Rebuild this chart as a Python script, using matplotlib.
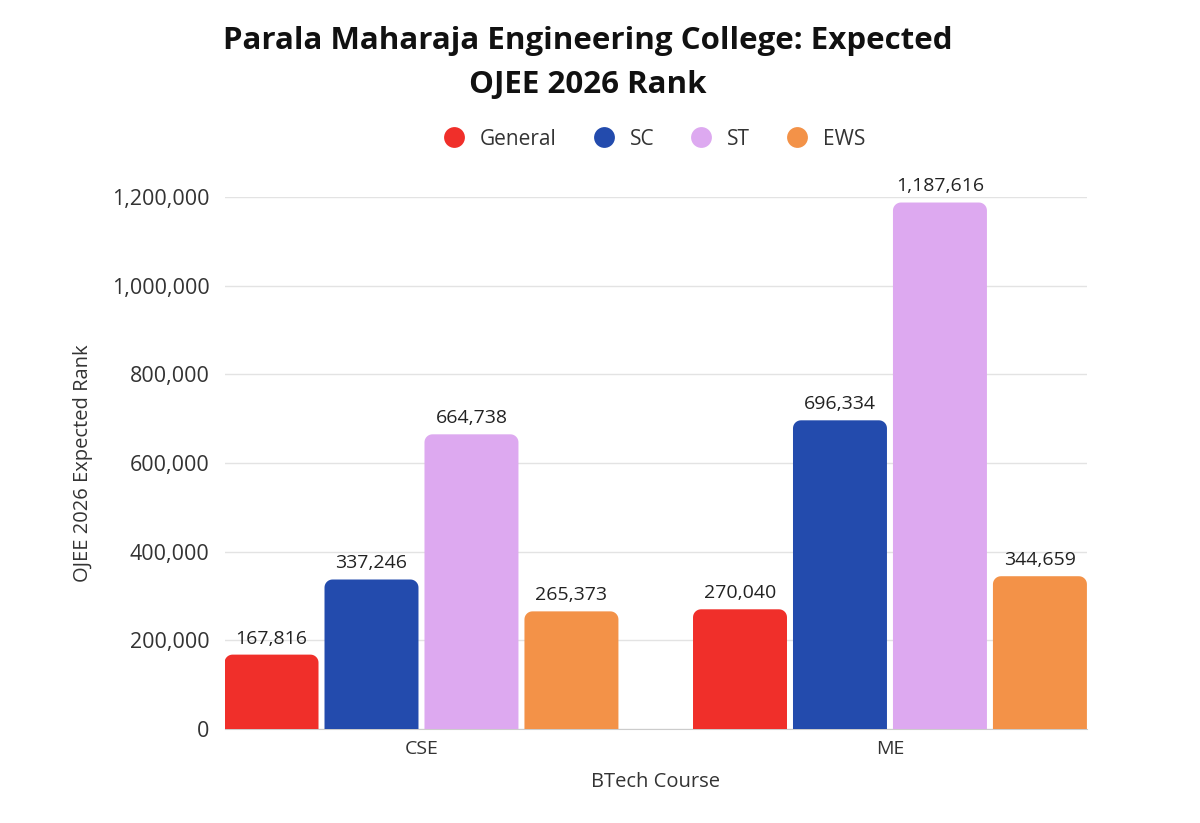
import matplotlib.pyplot as plt
from matplotlib.patches import PathPatch
from matplotlib.path import Path
from matplotlib.lines import Line2D
from matplotlib.ticker import FuncFormatter
import numpy as np

courses = ["CSE", "ME"]
categories = ["General", "SC", "ST", "EWS"]
general = [167816, 270040]
sc = [337246, 696334]
st = [664738, 1187616]
ews = [265373, 344659]
colors = ["#F02F2A", "#234BAD", "#DDA9F0", "#F39248"]

plt.rcParams["font.family"] = ["Open Sans", "DejaVu Sans"]


def top_round_bar(left, w, h, rx, ry):
    # rectangle with rounded top corners
    t = np.linspace(0, np.pi / 2, 10)
    verts = [(left, 0), (left + w, 0)]
    for a in t:
        verts.append((left + w - rx + rx * np.cos(a), h - ry + ry * np.sin(a)))
    for a in t:
        verts.append((left + rx - rx * np.sin(a), h - ry + ry * np.cos(a)))
    verts.append((left, 0))
    codes = [Path.MOVETO] + [Path.LINETO] * (len(verts) - 2) + [Path.CLOSEPOLY]
    return Path(verts, codes)


fig = plt.figure(figsize=(12, 8.23), dpi=100)
ax = fig.add_axes([0.1875, 0.1142, 0.7183, 0.6464])

x = np.arange(len(courses))
step = 0.2134
width = 0.2006
ymax = 1200000
ax.set_xlim(-0.4194, 1.4205)
ax.set_ylim(0, ymax)

# corner radius about 8 px
rx = 8 / 468.5
ry = 8 * ymax / 532.0

for i, (name, vals) in enumerate(zip(categories, [general, sc, st, ews])):
    xs = x + (i - 1.5) * step
    for xi, v in zip(xs, vals):
        ax.add_patch(PathPatch(top_round_bar(xi - width / 2, width, v, rx, ry),
                               fc=colors[i], ec="none", zorder=3))
        ax.text(xi, v + 16000, "{:,}".format(v), ha="center", va="bottom",
                fontsize=14, color="#222222", clip_on=False, zorder=4)

ax.set_yticks(np.arange(0, ymax + 1, 200000))
ax.yaxis.set_major_formatter(FuncFormatter(lambda v, p: "{:,}".format(int(v))))
ax.set_xticks(x)
ax.set_xticklabels(courses)
ax.tick_params(axis="y", length=0, pad=11, labelsize=15.5, labelcolor="#333333")
ax.tick_params(axis="x", length=0, pad=8, labelsize=14, labelcolor="#333333")
ax.grid(axis="y", color="#e3e3e3", lw=1, zorder=0)
for s in ["top", "right", "left"]:
    ax.spines[s].set_visible(False)
ax.spines["bottom"].set_color("#cccccc")

ax.set_xlabel("BTech Course", fontsize=14.5, color="#333333", labelpad=10)
ax.set_ylabel("OJEE 2026 Expected Rank", fontsize=14.5, color="#333333", labelpad=14)

fig.suptitle("Parala Maharaja Engineering College: Expected\nOJEE 2026 Rank",
             x=0.49, y=0.968, fontsize=22.5, fontweight="bold", color="#111111",
             linespacing=1.6)

handles = [Line2D([], [], marker="o", ls="", ms=15, mfc=c, mec="none") for c in colors]
fig.legend(handles, categories, loc="center", bbox_to_anchor=(0.541, 0.831), ncol=4,
           frameon=False, fontsize=15, handletextpad=0.25, columnspacing=1.25,
           labelcolor="#333333")

plt.savefig("out.png")
